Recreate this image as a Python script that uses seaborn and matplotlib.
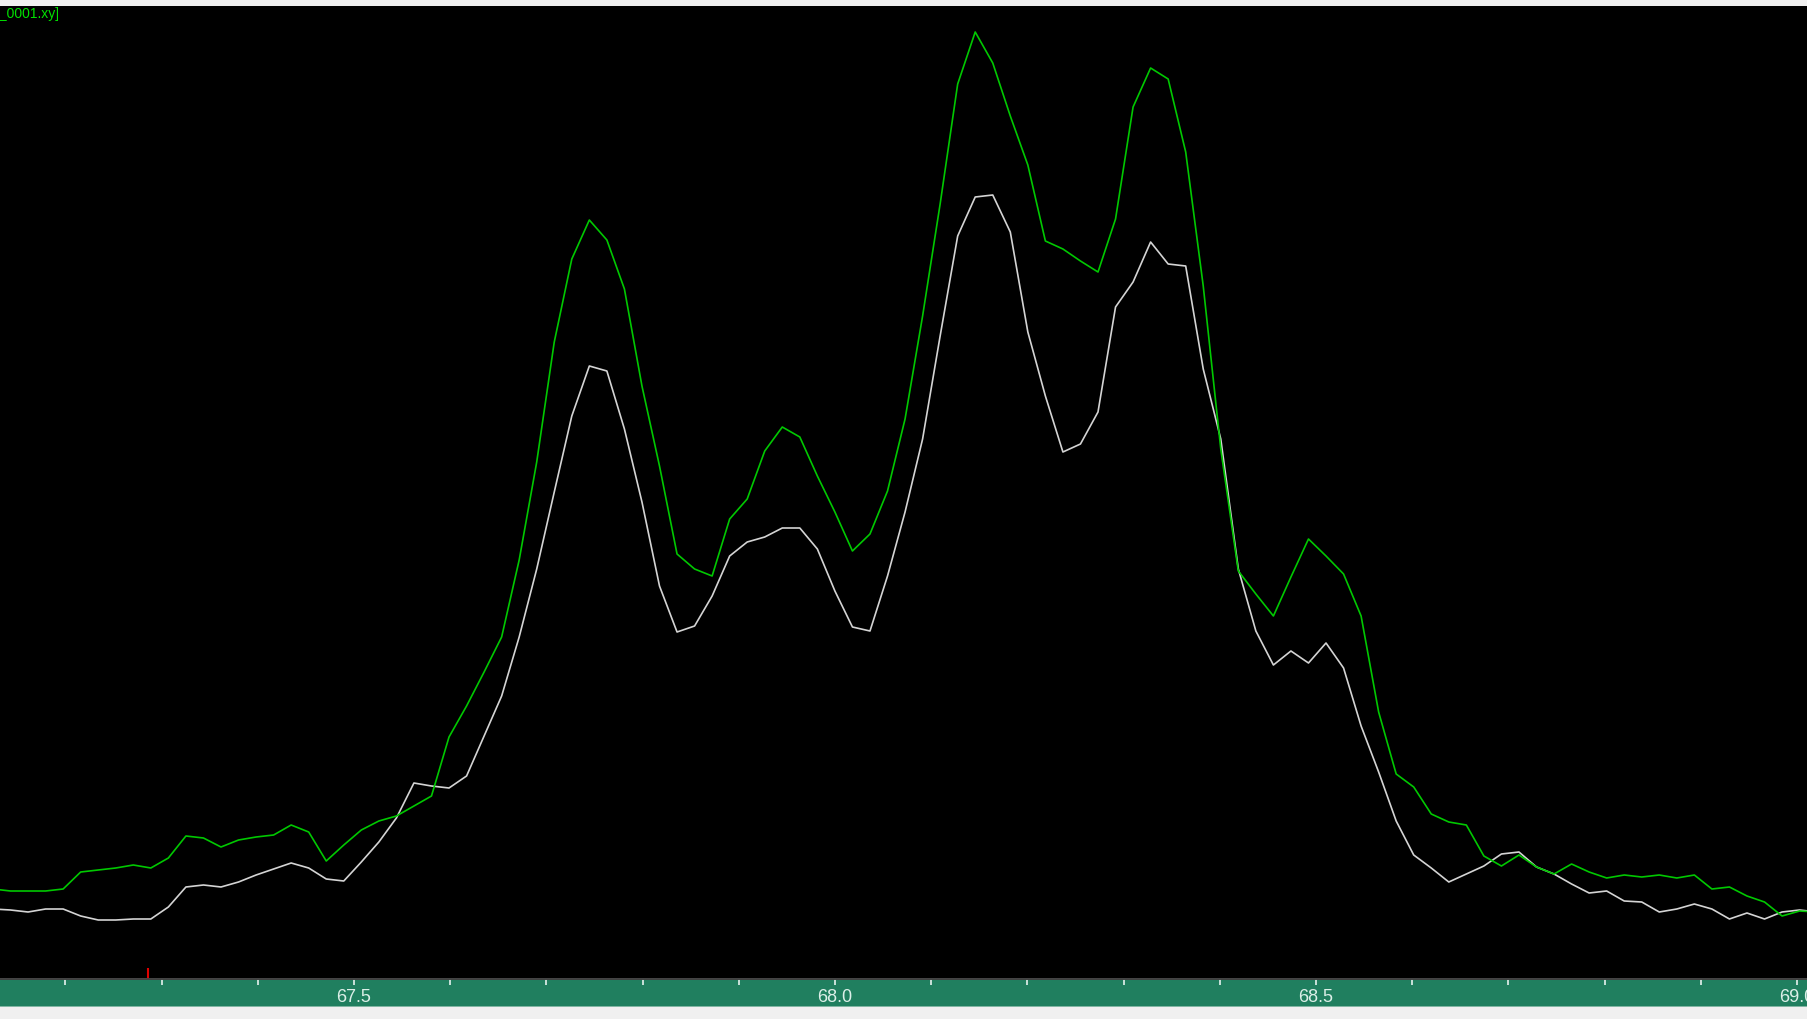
import numpy as np
import pandas as pd
import matplotlib
matplotlib.use("Agg")
import matplotlib.pyplot as plt
import seaborn as sns

# scan grid (2-theta, uniform step scan)
scan_start = 67.1247
scan_end = 69.0209
n_points = 105

# intensities (arbitrary counts)
green_counts = [
    89, 87, 87, 87, 89, 106, 108, 110, 113, 110, 120, 142, 140, 131, 138,
    141, 143, 153, 146, 117, 133, 148, 157, 162, 172, 182, 241, 272, 306,
    341, 418, 516, 636, 719, 758, 738, 689, 592, 512, 424, 409, 402, 459,
    479, 527, 551, 541, 502, 466, 427, 444, 487, 559, 662, 774, 894, 946,
    915, 862, 813, 737, 729, 717, 706, 759, 871, 910, 899, 826, 692, 529,
    407, 384, 362, 401, 439, 422, 404, 362, 266, 204, 191, 164, 156, 153,
    122, 112, 123, 111, 104, 114, 106, 100, 103, 101, 103, 100, 103, 89,
    91, 82, 76, 62, 67, 66,
]
white_counts = [
    69, 68, 66, 69, 69, 62, 58, 58, 59, 59, 71, 91, 93, 91, 96,
    103, 109, 115, 110, 99, 97, 116, 136, 160, 195, 192, 190, 202, 242,
    282, 341, 409, 486, 562, 612, 607, 549, 476, 392, 346, 352, 382, 422,
    436, 441, 450, 450, 429, 387, 351, 347, 402, 466, 539, 642, 742, 781,
    783, 746, 646, 582, 526, 534, 566, 671, 696, 736, 714, 712, 609, 539,
    409, 347, 313, 327, 315, 335, 310, 252, 206, 157, 123, 110, 96, 104,
    112, 124, 126, 111, 104, 94, 85, 87, 77, 76, 66, 69, 74, 69,
    59, 65, 59, 66, 68, 66,
]

major_ticks = [67.5, 68.0, 68.5, 69.0]
minor_ticks = [67.2, 67.3, 67.4, 67.6, 67.7, 67.8, 67.9, 68.1, 68.2, 68.3,
               68.4, 68.6, 68.7, 68.8, 68.9]
tick_labels = ["67.5", "68.0", "68.5", "69.0"]
cursor_pos = 67.286
file_label = "[_0001.xy]"

two_theta = np.linspace(scan_start, scan_end, n_points)
df = pd.DataFrame({
    "two_theta": np.concatenate([two_theta, two_theta]),
    "counts": green_counts + white_counts,
    "trace": ["green"] * n_points + ["white"] * n_points,
})

W, H = 1808, 1020
fig = plt.figure(figsize=(W / 100, H / 100), dpi=100, facecolor="#f0f0f0")

ax = fig.add_axes([0, 41 / H, 1, 972 / H])
ax.set_facecolor("black")
sns.lineplot(
    data=df, x="two_theta", y="counts", hue="trace",
    hue_order=["white", "green"],
    palette={"green": "#00c800", "white": "#d4d4d4"},
    estimator=None, sort=False, linewidth=1.2, legend=False, ax=ax,
)
ax.vlines(cursor_pos, 0, 10, color="#e00000", linewidth=1.5)
ax.set_xlim(67.132, 69.0114)
ax.set_ylim(0, 972)
ax.set_xticks([])
ax.set_yticks([])
ax.set_xlabel("")
ax.set_ylabel("")
for spine in ax.spines.values():
    spine.set_visible(False)

band = fig.add_axes([0, 13 / H, 1, 27 / H])
band.set_facecolor("#207f5f")
band.set_xlim(ax.get_xlim())
band.set_yticks([])
band.set_xticks(major_ticks)
band.set_xticklabels(tick_labels, fontfamily="Liberation Sans")
band.set_xticks(minor_ticks, minor=True)
band.xaxis.set_ticks_position("top")
band.tick_params(axis="x", which="both", direction="in", length=4,
                 width=1.2, color="#e6f2ee", top=True, bottom=False,
                 labeltop=True, labelbottom=False)
band.tick_params(axis="x", which="major", pad=-18.5, labelsize=13,
                 labelcolor="#dcefe8")
for side in ["left", "right"]:
    band.spines[side].set_visible(False)
band.spines["top"].set_color("#404040")
band.spines["top"].set_linewidth(1.4)
band.spines["bottom"].set_color("#7fb5a2")
band.spines["bottom"].set_linewidth(0.7)

fig.text(-5 / W, 1 - 7 / H, file_label, color="#00e000", fontsize=10,
         fontfamily=["Liberation Sans Narrow", "Liberation Sans"],
         fontstretch="condensed", ha="left", va="top")

fig.savefig("out.png", dpi=100, facecolor=fig.get_facecolor())
